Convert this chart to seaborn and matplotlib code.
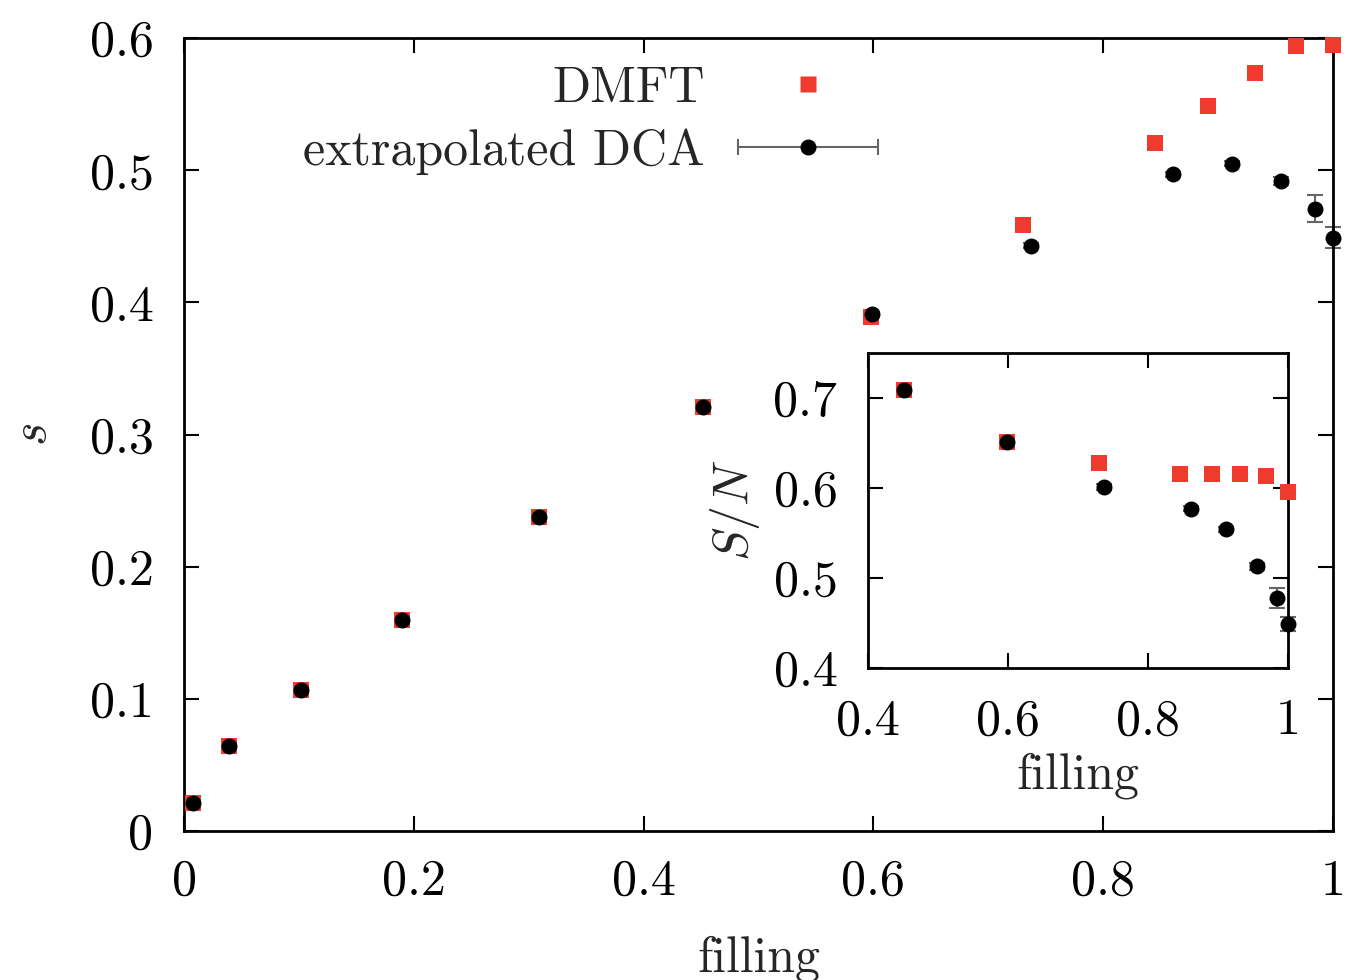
import numpy as np
import seaborn as sns
import matplotlib
matplotlib.use("Agg")
import matplotlib.pyplot as plt
from matplotlib.lines import Line2D
from matplotlib.collections import LineCollection
from matplotlib.container import ErrorbarContainer
from matplotlib.legend_handler import HandlerErrorbar

# main panel: entropy per site s vs filling
dmft_filling = [0.008, 0.039, 0.102, 0.190, 0.309, 0.452, 0.598, 0.730, 0.845, 0.891, 0.932, 0.968, 1.0]
dmft_s = [0.021, 0.064, 0.107, 0.160, 0.238, 0.321, 0.389, 0.459, 0.521, 0.549, 0.574, 0.594, 0.595]
dca_filling = [0.008, 0.039, 0.102, 0.190, 0.309, 0.452, 0.599, 0.737, 0.861, 0.912, 0.955, 0.984, 1.0]
dca_s = [0.021, 0.064, 0.107, 0.160, 0.238, 0.321, 0.391, 0.443, 0.497, 0.505, 0.492, 0.471, 0.449]
dca_s_err = [0.001, 0.001, 0.001, 0.001, 0.001, 0.001, 0.002, 0.002, 0.002, 0.002, 0.003, 0.010, 0.008]

# inset: S/N for the high filling points
dmft_filling_in = [0.452, 0.598, 0.730, 0.845, 0.891, 0.932, 0.968, 1.0]
dmft_sn = [0.709, 0.651, 0.628, 0.616, 0.615, 0.615, 0.613, 0.595]
dca_filling_in = [0.452, 0.599, 0.737, 0.861, 0.912, 0.955, 0.984, 1.0]
dca_sn = [0.709, 0.651, 0.601, 0.577, 0.554, 0.513, 0.478, 0.449]
dca_sn_err = [0.002, 0.002, 0.003, 0.003, 0.003, 0.004, 0.011, 0.008]

main_xticks = [0, 0.2, 0.4, 0.6, 0.8, 1.0]
main_xlabels = ["0", "0.2", "0.4", "0.6", "0.8", "1"]
main_yticks = [0, 0.1, 0.2, 0.3, 0.4, 0.5, 0.6]
main_ylabels = ["0", "0.1", "0.2", "0.3", "0.4", "0.5", "0.6"]
inset_xticks = [0.4, 0.6, 0.8, 1.0]
inset_xlabels = ["0.4", "0.6", "0.8", "1"]
inset_yticks = [0.4, 0.5, 0.6, 0.7]
inset_ylabels = ["0.4", "0.5", "0.6", "0.7"]

red = "#EF3B2E"
grey = "#666666"

sns.set_theme(style="ticks")
plt.rcParams["font.family"] = ["cmr10", "DejaVu Serif"]
plt.rcParams["mathtext.fontset"] = "cm"
plt.rcParams["axes.formatter.use_mathtext"] = True
plt.rcParams["axes.linewidth"] = 2.0
plt.rcParams["axes.edgecolor"] = "black"

FS = 36


def draw_points(ax, xr, yr, xb, yb, yerr):
    ax.errorbar(xb, yb, yerr=yerr, fmt="none", ecolor=grey, elinewidth=1.5,
                capsize=5.5, capthick=1.5, zorder=2, clip_on=False)
    sns.scatterplot(x=xr, y=yr, ax=ax, marker="s", s=144, color=red,
                    linewidth=0, zorder=3, clip_on=False)
    sns.scatterplot(x=xb, y=yb, ax=ax, marker="o", s=132, color="black",
                    linewidth=0, zorder=4, clip_on=False)


def style_axes(ax, xt, xl, yt, yl, pad_x, pad_y):
    ax.set_xticks(xt, xl)
    ax.set_yticks(yt, yl)
    ax.tick_params(direction="in", length=11, width=1.5, top=True, right=True,
                   labelsize=FS, colors="black")
    ax.tick_params(axis="x", pad=pad_x)
    ax.tick_params(axis="y", pad=pad_y)
    for sp in ax.spines.values():
        sp.set_visible(True)
        sp.set_linewidth(2.0)
        sp.set_color("black")


fig = plt.figure(figsize=(13.64, 9.8), dpi=100)
ax = fig.add_axes([0.1349, 0.152, 0.8424, 0.809])
draw_points(ax, dmft_filling, dmft_s, dca_filling, dca_s, dca_s_err)
ax.set_xlim(0, 1)
ax.set_ylim(0, 0.6)
style_axes(ax, main_xticks, main_xlabels, main_yticks, main_ylabels, 20, 22)
ax.set_xlabel("filling", fontsize=FS, labelpad=22)
ax.set_ylabel("$s$", fontsize=FS, labelpad=24)

# legend, gnuplot style: text first, sample on the right
h_dmft = Line2D([], [], marker="s", ls="none", color=red, ms=12, mec="none")
pt = Line2D([], [], marker="o", ls="none", color="black", ms=11.5, mec="none")
cap = Line2D([], [], color=grey, ms=11, mew=1.5)
bar = LineCollection([], colors=grey, linewidths=1.5)
h_dca = ErrorbarContainer((pt, (cap,), (bar,)), has_xerr=True, has_yerr=False)
ax.legend([h_dmft, h_dca], ["DMFT", "extrapolated DCA"], loc="upper right",
          bbox_to_anchor=(0.604, 0.965), frameon=False, fontsize=FS,
          markerfirst=False, handlelength=2.8, handletextpad=0.66,
          labelspacing=0.33, borderpad=0, borderaxespad=0,
          handler_map={ErrorbarContainer: HandlerErrorbar(xerr_size=1.4)})

# inset
axin = fig.add_axes([0.6364, 0.3184, 0.3079, 0.3214])
draw_points(axin, dmft_filling_in, dmft_sn, dca_filling_in, dca_sn, dca_sn_err)
axin.set_xlim(0.4, 1.0)
axin.set_ylim(0.4, 0.75)
style_axes(axin, inset_xticks, inset_xlabels, inset_yticks, inset_ylabels, 22, 22)
axin.set_xlabel("filling", fontsize=FS, labelpad=6)
axin.set_ylabel("$S/N$", fontsize=FS, labelpad=8)
axin.set_facecolor("white")

fig.savefig("out.png", dpi=100, facecolor="white")
